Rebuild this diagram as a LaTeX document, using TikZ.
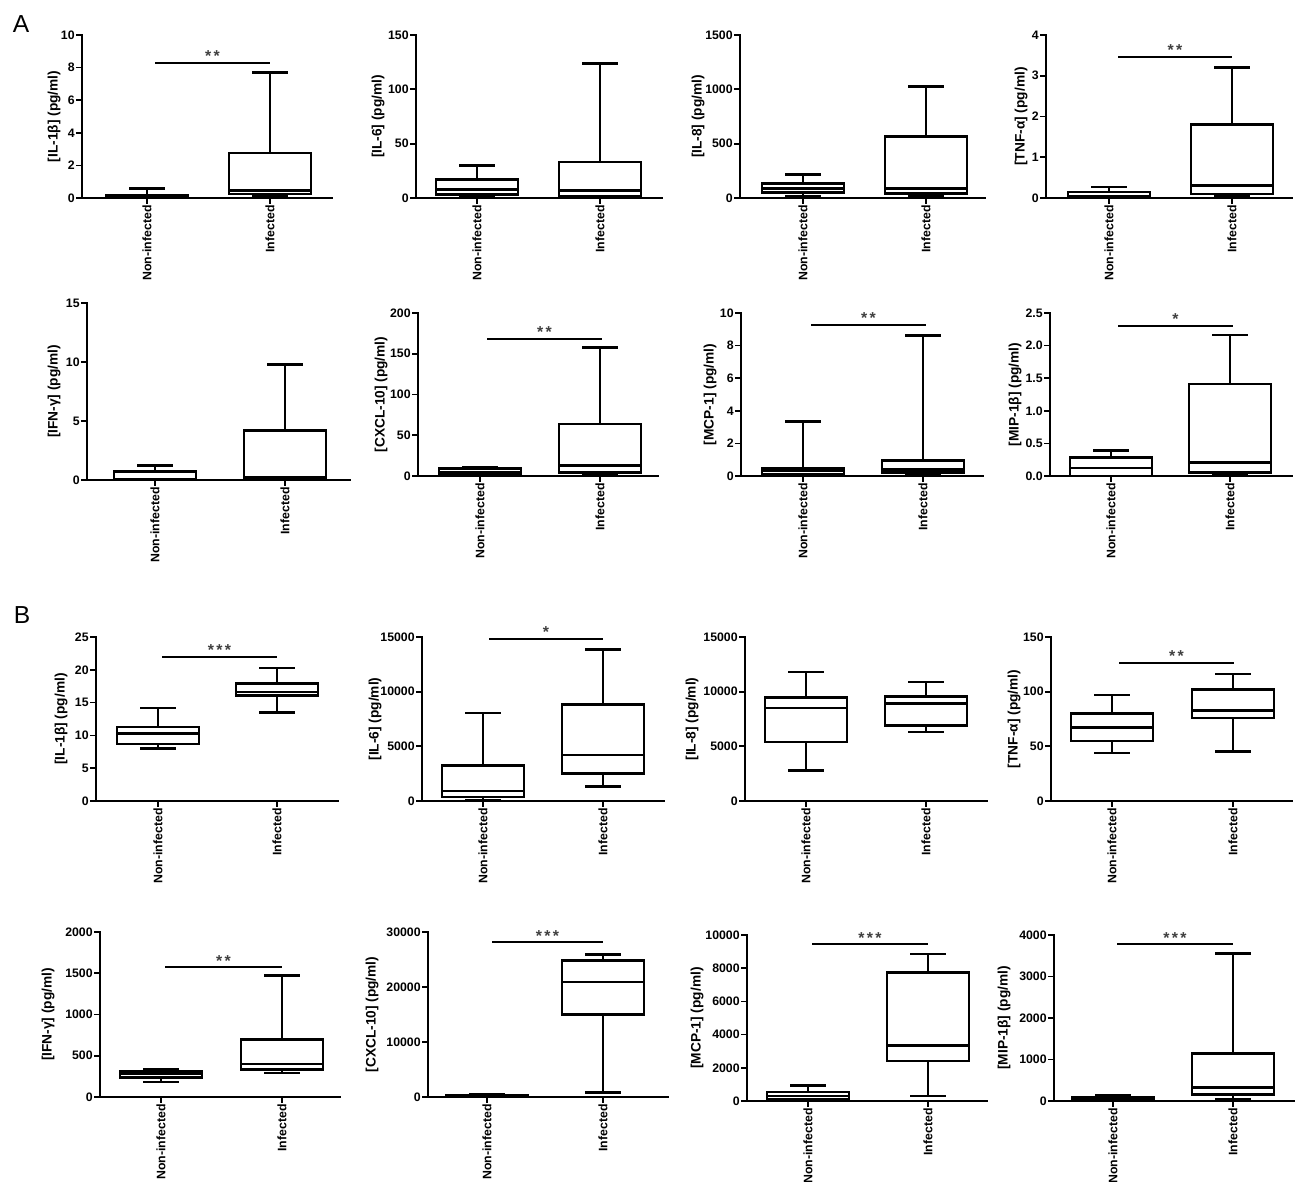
\documentclass[tikz,border=0pt]{standalone}
\usepackage{fontspec}
\setmainfont{Liberation Sans}
\usetikzlibrary{positioning}

% one panel: name, axis x, axis end, top pixel, zero pixel, top value, label x, label
\newcommand{\panel}[8]{%
  \def\pn{#1}\def\ax{#2}\def\yt{#4}\def\yz{#5}\def\ym{#6}%
  \draw[axisline] (#2,#4) -- (#2,#5) -- (#3,#5);
  \node[ylab] (ylab#1) at (#7,{(#4+#5)/2}) {#8};
}
% tick on the y axis: value, text, index
\newcommand{\ytick}[3]{%
  \draw[axisline] ({\ax-5},{\yz-(\yz-\yt)*((#1)/\ym)}) -- ++(5,0);
  \node[tick] (\pn t#3) at ({\ax-7},{\yz-(\yz-\yt)*((#1)/\ym)}) {#2};
}
% box and whiskers: name, centre x, min, q1, median, q3, max, group
\newcommand{\bplot}[8]{%
  \pgfmathsetmacro\ylo{\yz-(\yz-\yt)*((#3)/\ym)}
  \pgfmathsetmacro\yqa{\yz-(\yz-\yt)*((#4)/\ym)}
  \pgfmathsetmacro\ymd{\yz-(\yz-\yt)*((#5)/\ym)}
  \pgfmathsetmacro\yqc{\yz-(\yz-\yt)*((#6)/\ym)}
  \pgfmathsetmacro\yhi{\yz-(\yz-\yt)*((#7)/\ym)}
  \draw[boxline] (#2,\ylo) -- (#2,\yqa) (#2,\yqc) -- (#2,\yhi)
    ({#2-18},\ylo) -- ({#2+18},\ylo) ({#2-18},\yhi) -- ({#2+18},\yhi);
  \draw[boxline] ({#2-41},\yqa) rectangle ({#2+41},\yqc)
    ({#2-41},\ymd) -- ({#2+41},\ymd);
  \draw[axisline] (#2,\yz) -- (#2,{\yz+5});
  \node[cat] (#1) at (#2,{\yz+7}) {#8};
}
% significance bar: name, from x, to x, y, stars
\newcommand{\sig}[5]{%
  \draw[sigline] (#2,#4) -- (#3,#4);
  \node[stars] (#1) at ({(#2+#3)/2},{#4-1}) {#5};
}
\newcommand{\threestar}{*\hspace{1.3pt}*\hspace{1.3pt}*}
\newcommand{\twostar}{*\hspace{1.3pt}*}

\begin{document}
\begin{tikzpicture}[
        x=0.02cm, y=-0.02cm,
        axisline/.style={line width=1pt, line cap=rect},
        boxline/.style={line width=1.5pt},
        sigline/.style={line width=1.5pt},
        ylab/.style={rotate=90, inner sep=0pt, font=\fontsize{7.8}{9}\selectfont\bfseries},
        tick/.style={anchor=east, inner sep=0pt, font=\fontsize{7}{8}\selectfont\bfseries},
        cat/.style={rotate=90, anchor=east, inner sep=0pt, font=\fontsize{7}{8}\selectfont\bfseries},
        stars/.style={anchor=base, inner sep=0pt, text=black!75, font=\fontsize{9}{10}\selectfont\bfseries},
        letter/.style={inner sep=0pt, font=\fontsize{14}{16}\selectfont}
        ]
        \fill[white] (0,0) rectangle (1296,1182);
        \useasboundingbox (0,0) rectangle (1296,1182);

        % Panel letters
        \node[letter] (lblA) at (21,24) {A};
        \node[letter] (lblB) at (22,615) {B};

        % A, first row
        \panel{A1}{82}{332}{35}{198}{10}{54}{[IL-1β] (pg/ml)}
        \foreach \v/\t [count=\i] in {0/0,2/2,4/4,6/6,8/8,10/10} {\ytick{\v}{\t}{\i}}
        \bplot{nonA1}{147}{0}{0.02}{0.08}{0.15}{0.6}{Non-infected}
        \bplot{infA1}{270}{0.15}{0.25}{0.45}{2.75}{7.7}{Infected}
        \sig{sigA1}{155}{270}{63}{\twostar}

        \panel{A2}{416}{662}{35}{198}{150}{378}{[IL-6] (pg/ml)}
        \foreach \v/\t [count=\i] in {0/0,50/50,100/100,150/150} {\ytick{\v}{\t}{\i}}
        \bplot{nonA2}{477}{1}{3}{8}{17}{30}{Non-infected}
        \bplot{infA2}{600}{0.5}{1.5}{7}{33}{124}{Infected}

        \panel{A3}{740}{985}{35}{198}{1500}{698}{[IL-8] (pg/ml)}
        \foreach \v/\t [count=\i] in {0/0,500/500,1000/1000,1500/1500} {\ytick{\v}{\t}{\i}}
        \bplot{nonA3}{803}{20}{50}{90}{135}{215}{Non-infected}
        \bplot{infA3}{926}{20}{40}{85}{565}{1025}{Infected}

        \panel{A4}{1046}{1292}{35}{198}{4}{1021}{[TNF-α] (pg/ml)}
        \foreach \v/\t [count=\i] in {0/0,1/1,2/2,3/3,4/4} {\ytick{\v}{\t}{\i}}
        \bplot{nonA4}{1109}{0}{0}{0.05}{0.15}{0.27}{Non-infected}
        \bplot{infA4}{1232}{0.05}{0.1}{0.3}{1.8}{3.2}{Infected}
        \sig{sigA4}{1118}{1232}{57}{\twostar}

        % A, second row
        \panel{A5}{87}{350}{303}{480}{15}{54}{[IFN-γ] (pg/ml)}
        \foreach \v/\t [count=\i] in {0/0,5/5,10/10,15/15} {\ytick{\v}{\t}{\i}}
        \bplot{nonA5}{155}{0}{0}{0.1}{0.7}{1.25}{Non-infected}
        \bplot{infA5}{285}{0}{0.1}{0.2}{4.2}{9.8}{Infected}

        \panel{A6}{418}{658}{313}{476}{200}{381}{[CXCL-10] (pg/ml)}
        \foreach \v/\t [count=\i] in {0/0,50/50,100/100,150/150,200/200} {\ytick{\v}{\t}{\i}}
        \bplot{nonA6}{480}{2}{3}{5}{9}{11}{Non-infected}
        \bplot{infA6}{600}{2}{4}{13}{64}{158}{Infected}
        \sig{sigA6}{487}{602}{339}{\twostar}

        \panel{A7}{741}{983}{313}{476}{10}{710}{[MCP-1] (pg/ml)}
        \foreach \v/\t [count=\i] in {0/0,2/2,4/4,6/6,8/8,10/10} {\ytick{\v}{\t}{\i}}
        \bplot{nonA7}{803}{0.05}{0.1}{0.3}{0.45}{3.35}{Non-infected}
        \bplot{infA7}{923}{0.1}{0.2}{0.4}{0.95}{8.6}{Infected}
        \sig{sigA7}{811}{926}{325}{\twostar}

        \panel{A8}{1050}{1292}{313}{476}{2.5}{1015}{[MIP-1β] (pg/ml)}
        \foreach \v/\t [count=\i] in {0/0.0,0.5/0.5,1/1.0,1.5/1.5,2/2.0,2.5/2.5} {\ytick{\v}{\t}{\i}}
        \bplot{nonA8}{1111}{0}{0}{0.12}{0.28}{0.39}{Non-infected}
        \bplot{infA8}{1230}{0.03}{0.05}{0.21}{1.41}{2.16}{Infected}
        \sig{sigA8}{1118}{1233}{326}{*}

        % B, first row
        \panel{B1}{96}{338}{637}{801}{25}{61}{[IL-1β] (pg/ml)}
        \foreach \v/\t [count=\i] in {0/0,5/5,10/10,15/15,20/20,25/25} {\ytick{\v}{\t}{\i}}
        \bplot{nonB1}{158}{8.0}{8.7}{10.3}{11.3}{14.2}{Non-infected}
        \bplot{infB1}{277}{13.5}{16.1}{16.6}{17.9}{20.3}{Infected}
        \sig{sigB1}{162}{277}{657}{\threestar}

        \panel{B2}{422}{664}{637}{801}{15}{375}{[IL-6] (pg/ml)}
        \foreach \v/\t [count=\i] in {0/0,5/5000,10/10000,15/15000} {\ytick{\v}{\t}{\i}}
        \bplot{nonB2}{483}{0.1}{0.35}{0.9}{3.25}{8.05}{Non-infected}
        \bplot{infB2}{603}{1.3}{2.5}{4.2}{8.85}{13.85}{Infected}
        \sig{sigB2}{489}{603}{639}{*}

        \panel{B3}{745}{987}{637}{801}{15}{692}{[IL-8] (pg/ml)}
        \foreach \v/\t [count=\i] in {0/0,5/5000,10/10000,15/15000} {\ytick{\v}{\t}{\i}}
        \bplot{nonB3}{806}{2.8}{5.4}{8.5}{9.45}{11.8}{Non-infected}
        \bplot{infB3}{926}{6.3}{6.9}{8.9}{9.55}{10.9}{Infected}

        \panel{B4}{1051}{1292}{637}{801}{150}{1014}{[TNF-α] (pg/ml)}
        \foreach \v/\t [count=\i] in {0/0,50/50,100/100,150/150} {\ytick{\v}{\t}{\i}}
        \bplot{nonB4}{1112}{44}{55}{67}{80}{97}{Non-infected}
        \bplot{infB4}{1233}{45}{76}{83}{102}{116}{Infected}
        \sig{sigB4}{1119}{1234}{663}{\twostar}

        % B, second row
        \panel{B5}{100}{340}{932}{1097}{2000}{48}{[IFN-γ] (pg/ml)}
        \foreach \v/\t [count=\i] in {0/0,500/500,1000/1000,1500/1500,2000/2000} {\ytick{\v}{\t}{\i}}
        \bplot{nonB5}{161}{180}{240}{280}{310}{330}{Non-infected}
        \bplot{infB5}{282}{290}{330}{400}{700}{1470}{Infected}
        \sig{sigB5}{165}{282}{967}{\twostar}

        \panel{B6}{428}{668}{932}{1097}{30}{372}{[CXCL-10] (pg/ml)}
        \foreach \v/\t [count=\i] in {0/0,10/10000,20/20000,30/30000} {\ytick{\v}{\t}{\i}}
        \bplot{nonB6}{487}{0}{0.1}{0.2}{0.3}{0.4}{Non-infected}
        \bplot{infB6}{603}{0.8}{15}{20.9}{24.8}{25.9}{Infected}
        \sig{sigB6}{492}{603}{942}{\threestar}

        \panel{B7}{747}{987}{935}{1101}{10}{697}{[MCP-1] (pg/ml)}
        \foreach \v/\t [count=\i] in {0/0,2/2000,4/4000,6/6000,8/8000,10/10000} {\ytick{\v}{\t}{\i}}
        \bplot{nonB7}{808}{0.05}{0.1}{0.3}{0.55}{0.95}{Non-infected}
        \bplot{infB7}{928}{0.3}{2.4}{3.35}{7.75}{8.85}{Infected}
        \sig{sigB7}{812}{928}{944}{\threestar}

        \panel{B8}{1054}{1294}{935}{1101}{4}{1004}{[MIP-1β] (pg/ml)}
        \foreach \v/\t [count=\i] in {0/0,1/1000,2/2000,3/3000,4/4000} {\ytick{\v}{\t}{\i}}
        \bplot{nonB8}{1113}{0.02}{0.04}{0.08}{0.1}{0.13}{Non-infected}
        \bplot{infB8}{1233}{0.05}{0.15}{0.33}{1.15}{3.55}{Infected}
        \sig{sigB8}{1117}{1233}{944}{\threestar}

    \end{tikzpicture}
\end{document}
